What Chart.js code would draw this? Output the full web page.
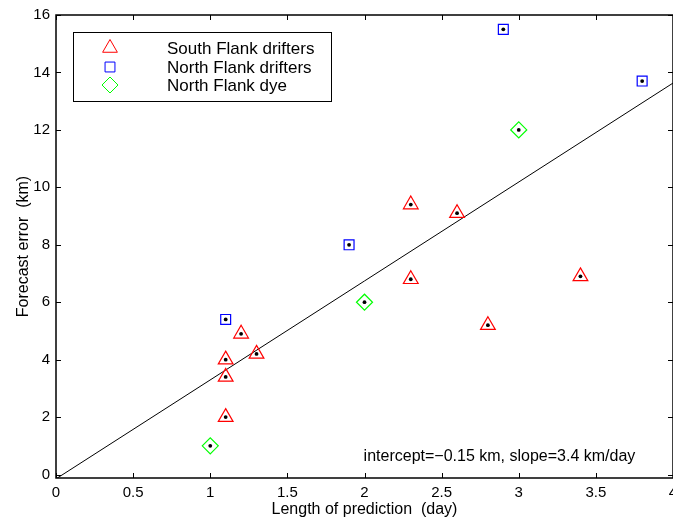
<!DOCTYPE html>
<html>
<head>
    <title>Forecast error vs length of prediction</title>
    <script src="https://cdn.jsdelivr.net/npm/chart.js"></script>
    <style>
        body { margin: 0; background: #fff; }
    </style>
</head>
<body>
    <canvas id="myChart" width="673" height="523"></canvas>

    <script>
        // data
        var southX = [1.1, 1.1, 1.1, 1.2, 1.3, 2.3, 2.3, 2.6, 2.8, 3.4];
        var southY = [2.0, 3.4, 4.0, 4.9, 4.2, 9.4, 6.8, 9.1, 5.2, 6.9];
        var northX = [1.1, 1.9, 2.9, 3.8];
        var northY = [5.4, 8.0, 15.5, 13.7];
        var dyeX = [1.0, 2.0, 3.0];
        var dyeY = [1.0, 6.0, 12.0];
        var fitX = [0, 4];
        var fitY = [-0.15, 13.63];
        var xTicks = [0, 0.5, 1, 1.5, 2, 2.5, 3, 3.5, 4];
        var yTicks = [0, 2, 4, 6, 8, 10, 12, 14, 16];
        var note = 'intercept=\u22120.15 km, slope=3.4 km/day';

        var FONT = '"Liberation Sans", Arial, Helvetica, sans-serif';

        function pts(xs, ys) {
            return xs.map(function (x, i) { return { x: x, y: ys[i] }; });
        }

        // box, inward ticks, centre dots, legend and note
        var matlabLook = {
            id: 'matlabLook',
            afterDatasetsDraw: function (chart) {
                var ctx = chart.ctx;
                ctx.save();
                ctx.fillStyle = '#000';
                chart.data.datasets.forEach(function (ds, i) {
                    if (!ds.dotted) return;
                    chart.getDatasetMeta(i).data.forEach(function (p) {
                        ctx.beginPath();
                        ctx.arc(p.x, p.y, 1.9, 0, Math.PI * 2);
                        ctx.fill();
                    });
                });
                ctx.restore();
            },
            afterDraw: function (chart) {
                var ctx = chart.ctx;
                var a = chart.chartArea;
                var xs = chart.scales.x, ys = chart.scales.y;
                var tl = 5;
                ctx.save();
                ctx.strokeStyle = '#000';
                ctx.lineWidth = 1.5;
                ctx.strokeRect(a.left, a.top, a.right - a.left, a.bottom - a.top);
                ctx.lineWidth = 1;
                ctx.beginPath();
                xTicks.forEach(function (v) {
                    var px = Math.round(xs.getPixelForValue(v)) + 0.5;
                    ctx.moveTo(px, a.bottom); ctx.lineTo(px, a.bottom - tl);
                    ctx.moveTo(px, a.top); ctx.lineTo(px, a.top + tl);
                });
                yTicks.forEach(function (v) {
                    var py = Math.round(ys.getPixelForValue(v)) + 0.5;
                    ctx.moveTo(a.left, py); ctx.lineTo(a.left + tl, py);
                    ctx.moveTo(a.right, py); ctx.lineTo(a.right - tl, py);
                });
                ctx.stroke();

                // note
                ctx.fillStyle = '#000';
                ctx.font = '16px ' + FONT;
                ctx.textAlign = 'center';
                ctx.textBaseline = 'middle';
                ctx.fillText(note, xs.getPixelForValue(2.875), ys.getPixelForValue(0.62));

                // legend
                var lx = 73.5, ly = 32.5, lw = 258, lh = 69;
                ctx.fillStyle = '#fff';
                ctx.fillRect(lx, ly, lw, lh);
                ctx.strokeStyle = '#000';
                ctx.lineWidth = 1;
                ctx.strokeRect(lx, ly, lw, lh);
                var rows = [48, 67, 85];
                ctx.font = '17px ' + FONT;
                ctx.textAlign = 'left';
                var items = chart.data.datasets.filter(function (d) { return d.dotted; });
                items.forEach(function (ds, i) {
                    ctx.fillStyle = 'rgba(0,0,0,0)';
                    ctx.strokeStyle = ds.borderColor;
                    ctx.lineWidth = 1;
                    Chart.helpers.drawPoint(ctx, {
                        pointStyle: ds.pointStyle,
                        radius: ds.pointRadius,
                        borderWidth: 1,
                        rotation: 0
                    }, 110, rows[i]);
                    ctx.fillStyle = '#000';
                    ctx.fillText(ds.label, 167, rows[i] + 1);
                });
                ctx.restore();
            }
        };

        function plainLabel(v) { return String(v); }

        var ctx = document.getElementById('myChart').getContext('2d');
        var myChart = new Chart(ctx, {
            type: 'scatter',
            data: {
                datasets: [{
                    label: 'South Flank drifters',
                    data: pts(southX, southY),
                    pointStyle: 'triangle',
                    pointRadius: 8.5,
                    borderColor: '#ff0000',
                    backgroundColor: 'rgba(0,0,0,0)',
                    pointBorderWidth: 1.2,
                    dotted: true
                }, {
                    label: 'North Flank drifters',
                    data: pts(northX, northY),
                    pointStyle: 'rect',
                    pointRadius: 7,
                    borderColor: '#0000ff',
                    backgroundColor: 'rgba(0,0,0,0)',
                    pointBorderWidth: 1.2,
                    dotted: true
                }, {
                    label: 'North Flank dye',
                    data: pts(dyeX, dyeY),
                    pointStyle: 'rectRot',
                    pointRadius: 8,
                    borderColor: '#00ff00',
                    backgroundColor: 'rgba(0,0,0,0)',
                    pointBorderWidth: 1.2,
                    dotted: true
                }, {
                    label: 'fit',
                    data: pts(fitX, fitY),
                    showLine: true,
                    pointRadius: 0,
                    borderColor: '#000',
                    borderWidth: 1
                }]
            },
            options: {
                responsive: false,
                animation: false,
                layout: { autoPadding: false, padding: { top: 15, right: 0, left: 0, bottom: 0 } },
                plugins: {
                    legend: { display: false },
                    tooltip: { enabled: false }
                },
                scales: {
                    x: {
                        type: 'linear',
                        min: 0,
                        max: 4,
                        afterBuildTicks: function (s) { s.ticks = xTicks.map(function (v) { return { value: v }; }); },
                        afterFit: function (s) { s.height = 45; s.paddingLeft = 0; s.paddingRight = 0; },
                        grid: { display: false, drawTicks: false },
                        border: { display: false },
                        ticks: {
                            padding: 6,
                            maxRotation: 0,
                            autoSkip: false,
                            color: '#000',
                            callback: plainLabel,
                            font: { family: FONT, size: 15 }
                        },
                        title: {
                            display: true,
                            text: 'Length of prediction  (day)',
                            color: '#000',
                            padding: { top: 0, bottom: 3.5 },
                            font: { family: FONT, size: 16 }
                        }
                    },
                    y: {
                        type: 'linear',
                        min: -0.12,
                        max: 16,
                        afterBuildTicks: function (s) { s.ticks = yTicks.map(function (v) { return { value: v }; }); },
                        afterFit: function (s) { s.width = 56; s.paddingTop = 0; s.paddingBottom = 0; },
                        grid: { display: false, drawTicks: false },
                        border: { display: false },
                        ticks: {
                            padding: 6,
                            autoSkip: false,
                            color: '#000',
                            callback: plainLabel,
                            font: { family: FONT, size: 15 }
                        },
                        title: {
                            display: true,
                            text: 'Forecast error  (km)',
                            color: '#000',
                            padding: { top: 13.5, bottom: 0 },
                            font: { family: FONT, size: 16 }
                        }
                    }
                }
            },
            plugins: [matlabLook]
        });
    </script>
</body>
</html>
